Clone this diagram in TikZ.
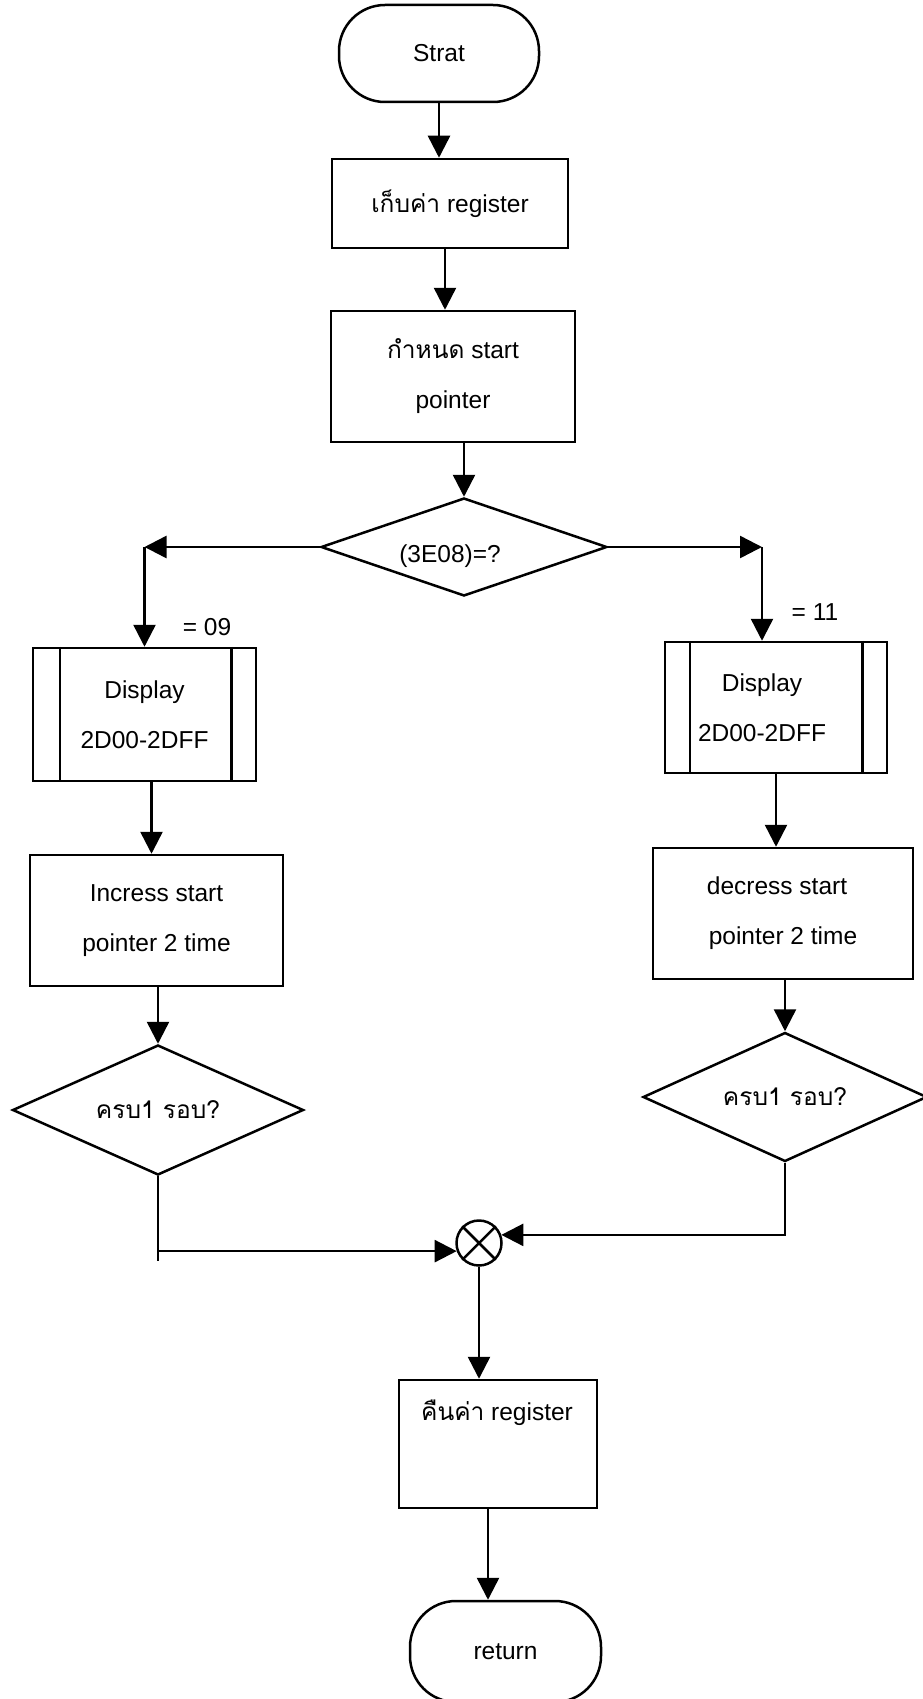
\documentclass[tikz,border=0pt]{standalone}
\usepackage{fontspec}
\setmainfont{Liberation Sans}
\newfontfamily\thai[Script=Thai]{Loma}
\usetikzlibrary{arrows.meta,shapes.geometric}

\begin{document}
\begin{tikzpicture}[x=1pt,y=-1pt,
  line width=2.5pt,
  every node/.style={font=\fontsize{24.5}{50}\selectfont},
  flow/.style={-{Triangle[length=22pt,width=22pt]}},
  proc/.style={draw, rectangle, inner sep=0pt, align=center},
  term/.style={draw, rectangle, rounded corners=46pt, inner sep=0pt},
  cond/.style={draw, diamond, inner sep=0pt},
  sumj/.style={draw, circle, minimum size=45pt, inner sep=0pt},
]
\useasboundingbox (0,0) rectangle (923,1699);

% main column
\node[term, minimum width=200pt, minimum height=97pt] (start) at (439,53.5) {Strat};
\node[proc, minimum width=236pt, minimum height=89pt] (save) at (450,203.5) {{\thai เก็บค่า} register};
\node[proc, minimum width=244pt, minimum height=131pt] (setptr) at (453,376.5) {{\thai กำหนด} start\\pointer};
\node[cond, aspect=2.9, minimum width=286pt, minimum height=98pt] (dec) at (464,547) {};
\node (dectext) at (450,556) {(3E08)=?};

% left branch
\node[proc, minimum width=223pt, minimum height=133pt] (dispL) at (144.5,714.5) {Display\\2D00-2DFF};
\draw ([xshift=28pt]dispL.north west) -- ([xshift=28pt]dispL.south west);
\draw ([xshift=-26pt]dispL.north east) -- ([xshift=-26pt]dispL.south east);
\node[proc, minimum width=253pt, minimum height=131pt] (incL) at (156.5,920.5) {Incress start\\pointer 2 time};
\node[cond, aspect=2.24, minimum width=291pt, minimum height=130pt] (loopL) at (158,1110) {{\thai ครบ1 รอบ?}};

% right branch
\node[proc, minimum width=222pt, minimum height=131pt] (dispR) at (776,707.5) {};
\node[align=center] (dispRtext) at (762,707.5) {Display\\2D00-2DFF};
\draw ([xshift=26pt]dispR.north west) -- ([xshift=26pt]dispR.south west);
\draw ([xshift=-26pt]dispR.north east) -- ([xshift=-26pt]dispR.south east);
\node[proc, minimum width=260pt, minimum height=131pt] (decR) at (783,913.5) {decress start\hspace*{12pt}\\pointer 2 time};
\node[cond, aspect=2.2, minimum width=284pt, minimum height=129pt] (loopR) at (785,1097) {{\thai ครบ1 รอบ?}};

% merge and exit
\node[sumj] (junc) at (479,1243) {};
\draw (junc.45) -- (junc.225) (junc.135) -- (junc.315);
\node[proc, minimum width=198pt, minimum height=128pt] (restore) at (498,1444) {};
\node (restoretext) at (497,1413) {{\thai คืนค่า} register};
\node[term, minimum width=191pt, minimum height=101pt] (ret) at (505.5,1651.5) {return};

% branch labels
\node (eq09) at (207,627) {= 09};
\node (eq11) at (815,612) {= 11};

% connectors
\draw[flow] (start.south) -- (start.south |- save.north);
\draw[flow] ([xshift=-5pt]save.south) -- ([xshift=-5pt]save.south |- setptr.north);
\draw[flow] (dec.north |- setptr.south) -- (dec.north);
\coordinate (cl) at (dispL.north |- dec.west);
\draw[flow] (dec.west) -- (cl);
\draw[flow] (cl) -- (dispL.north);
\coordinate (cr) at ([xshift=-14pt]dispR.north |- dec.east);
\draw[flow] (dec.east) -- (cr);
\draw[flow] (cr) -- ([xshift=-14pt]dispR.north);
\draw[flow] ([xshift=7pt]dispL.south) -- ([xshift=7pt]dispL.south |- incL.north);
\draw[flow] (loopL.north |- incL.south) -- (loopL.north);
\draw[flow] (dispR.south) -- (dispR.south |- decR.north);
\draw[flow] (loopR.north |- decR.south) -- (loopR.north);
\draw[flow] (loopL.south) |- (junc.200);
\draw (loopL.south |- junc.200) -- ++(0,10);
\draw[flow] (loopR.south) |- (junc.20);
\draw[flow] (junc.south) -- (junc.south |- restore.north);
\draw[flow] ([xshift=-10pt]restore.south) -- ([xshift=-10pt]restore.south |- ret.north);
\end{tikzpicture}
\end{document}
